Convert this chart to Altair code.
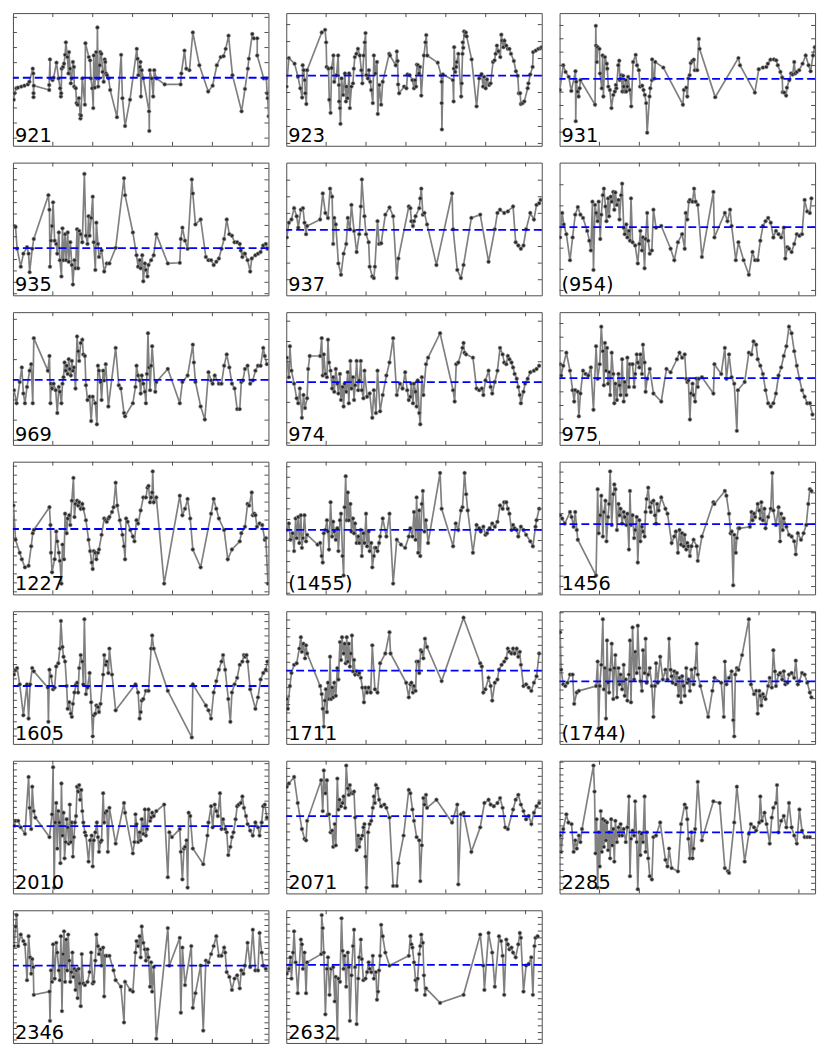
import altair as alt
import pandas as pd

LABELS = ["921", "923", "931", "935", "937", "(954)", "969", "974", "975",
          "1227", "(1455)", "1456", "1605", "1711", "(1744)", "2010", "2071",
          "2285", "2346", "2632"]
MEANS = [52.3, 54.0, 51.5, 36.25, 50.25, 52.5, 50.0, 48.25, 51.25, 50.25,
         49.5, 54.0, 44.5, 56.25, 48.0, 51.75, 59.5, 47.0, 59.5, 60.0]
STEPS = [11.6, 13.05, 10.25, 8.75, 12.75, 16.25, 15.5, 15.6, 10.5, 6.9,
         8.1, 8.0, 5.5, 6.5, 6.6, 4.8, 6.1, 4.9, 4.4, 5.2]
X_TICKS = [15.3, 30.6, 45.9, 61.2, 76.5, 91.8]
X_DOMAIN = [0, 98]
Y_DOMAIN = [0, 102]

P921 = [(0.3,35.4),(0.6,40.4),(1.3,44.2),(1.9,44.7),(3.2,45.5),(4.4,46.2),(5.7,47.2),(6.3,49.2),(7.6,59.3),(7.8,55.6),(7.9,40.4),(7.9,37.4),(8.0,46.2),(13.9,42.9),(13.9,46.7),(14.2,66.4),(14.3,51.8),(15.2,50.5),(15.6,52.3),(16.7,63.9),(17.5,51.8),(18.1,44.2),(18.4,37.9),(18.5,40.4),(18.7,59.3),(19.2,60.6),(19.6,63.1),(20.0,69.9),(20.3,79.5),(20.9,68.2),(21.3,55.6),(21.5,72.0),(21.9,59.3),(22.2,48.0),(22.5,51.8),(23.0,64.4),(23.4,60.6),(23.5,45.5),(24.1,44.2),(24.4,32.8),(24.8,31.6),(25.3,36.6),(25.8,24.0),(25.9,21.0),(26.1,23.2),(26.6,51.8),(27.6,31.6),(27.8,78.8),(29.1,68.2),(29.6,65.7),(29.9,51.8),(30.4,44.2),(30.8,29.0),(31.0,69.4),(31.4,44.7),(31.9,72.0),(32.2,51.8),(32.4,90.9),(32.7,45.5),(32.9,51.8),(33.3,61.9),(33.5,72.0),(33.9,70.7),(34.4,56.8),(34.8,49.2),(35.2,66.4),(35.4,64.4),(35.7,55.6),(36.1,54.3),(36.7,51.8),(37.3,42.9),(39.9,22.0),(41.5,69.9),(42.0,36.6),(43.0,15.2),(44.9,35.4),(47.5,74.5),(47.8,66.9),(48.1,54.3),(48.7,60.6),(48.9,64.4),(49.1,37.9),(49.4,58.1),(50.0,51.8),(52.2,26.5),(52.3,11.4),(52.5,58.1),(53.2,51.8),(53.8,37.9),(54.2,58.1),(55.1,51.8),(58.2,47.2),(64.3,47.2),(64.6,55.6),(65.8,73.2),(66.5,59.3),(67.7,58.1),(69.0,87.1),(71.5,61.9),(74.9,41.7),(76.6,46.2),(78.2,61.9),(79.7,68.2),(80.8,68.9),(81.6,74.5),(82.7,84.6),(84.2,54.3),(87.7,26.5),(89.0,43.7),(90.1,59.3),(90.5,66.9),(91.8,85.9),(92.4,82.6),(93.7,82.6),(93.7,69.4),(96.2,51.8),(97.2,51.8),(97.5,40.4),(97.7,36.6),(98.1,22.7)]

P923 = [(0.1,45.5),(1.0,67.4),(3.2,63.1),(4.5,53.0),(5.4,44.2),(6.1,37.1),(6.3,61.9),(6.7,58.1),(7.1,50.5),(7.3,40.4),(7.7,32.1),(8.0,58.1),(13.6,87.1),(14.9,89.1),(15.3,79.5),(15.5,60.6),(16.2,59.3),(16.5,35.4),(17.0,25.3),(17.4,59.8),(18.1,69.4),(18.4,49.2),(19.3,54.3),(19.9,69.4),(20.2,46.7),(20.3,34.1),(20.6,29.0),(20.8,16.9),(21.2,51.8),(21.8,39.1),(22.5,55.6),(22.9,34.1),(23.1,45.5),(23.5,36.6),(24.1,55.6),(24.4,29.0),(25.0,45.5),(25.6,48.0),(25.9,59.3),(26.3,68.2),(26.9,70.7),(27.5,74.5),(28.2,69.4),(28.8,58.1),(29.2,48.0),(29.7,69.4),(30.1,79.5),(30.4,86.6),(30.7,54.3),(31.3,51.8),(31.7,58.1),(32.2,49.2),(32.6,42.9),(33.2,32.8),(33.6,69.4),(34.2,55.6),(34.8,64.4),(35.1,24.5),(35.7,46.7),(36.4,31.6),(37.0,49.2),(39.5,70.7),(39.8,69.4),(42.0,61.9),(42.4,72.5),(42.7,65.2),(42.9,47.2),(43.3,40.4),(45.2,45.5),(46.1,44.2),(46.5,54.8),(47.3,54.3),(48.4,50.5),(49.0,44.2),(49.4,50.5),(49.8,45.5),(50.1,62.4),(50.5,61.9),(50.9,55.6),(51.3,60.6),(51.8,38.6),(52.8,69.4),(53.4,79.5),(53.7,85.1),(54.1,69.4),(58.1,63.9),(59.4,54.3),(59.6,49.2),(59.6,32.8),(59.7,12.6),(60.1,54.8),(63.9,50.5),(64.2,34.1),(64.3,59.3),(64.4,75.8),(64.8,56.8),(65.2,60.6),(65.4,64.4),(66.0,70.7),(67.1,37.9),(67.3,48.0),(67.6,70.7),(67.7,79.5),(67.9,75.3),(68.2,87.9),(68.6,84.6),(68.9,87.1),(69.2,84.1),(71.1,66.4),(73.0,30.3),(74.0,51.8),(74.9,55.1),(75.5,45.5),(75.9,53.0),(76.5,44.2),(77.0,51.0),(77.8,46.7),(78.4,48.0),(79.3,64.4),(79.9,65.7),(80.3,70.7),(80.8,77.0),(81.4,72.7),(82.1,68.2),(82.5,85.4),(82.8,80.8),(83.3,75.8),(83.7,80.8),(84.4,77.0),(85.0,74.5),(85.6,74.5),(86.2,70.7),(87.3,65.2),(88.1,57.3),(88.8,53.8),(89.2,40.4),(89.7,40.4),(90.0,32.1),(90.7,32.8),(91.3,34.1),(92.6,44.2),(92.9,48.0),(93.6,54.8),(94.5,60.6),(94.7,72.0),(95.7,73.2),(96.7,74.5),(97.6,75.0),(98.0,75.8)]

P931 = [(0.1,42.9),(1.4,61.9),(2.3,56.8),(3.5,53.0),(4.5,42.2),(6.1,57.3),(6.2,18.9),(6.4,49.2),(6.9,41.7),(7.3,37.9),(7.7,44.2),(8.0,50.5),(13.6,31.6),(13.9,92.2),(14.0,77.0),(14.3,64.4),(14.6,75.8),(15.3,74.5),(15.5,55.6),(16.2,44.2),(16.5,69.4),(16.8,37.9),(17.4,68.2),(18.1,63.1),(18.3,59.3),(18.7,45.5),(19.3,42.9),(19.9,29.0),(20.6,39.1),(21.2,41.7),(21.6,46.7),(21.8,44.2),(22.5,61.9),(22.9,65.4),(23.1,50.5),(23.4,51.8),(23.7,54.3),(24.1,41.7),(24.4,53.8),(24.6,45.5),(25.0,41.7),(25.4,50.5),(25.6,41.7),(26.0,45.5),(26.3,53.0),(26.9,42.9),(27.5,30.3),(28.2,64.4),(29.2,69.9),(29.7,61.9),(30.4,58.1),(30.9,45.5),(31.7,46.2),(32.2,42.9),(32.7,39.1),(33.2,32.8),(33.6,10.1),(34.5,37.9),(34.8,44.2),(35.4,50.5),(35.5,66.4),(36.0,51.8),(36.4,51.8),(36.7,64.4),(39.8,60.1),(47.3,31.6),(47.7,42.9),(48.6,44.7),(49.0,37.9),(49.4,51.8),(49.9,54.3),(50.3,63.6),(50.9,65.2),(51.5,66.2),(51.9,58.1),(52.8,58.1),(53.4,82.1),(53.7,74.5),(59.7,37.4),(68.6,67.4),(69.2,61.9),(74.9,40.9),(76.4,58.8),(78.0,60.1),(79.3,60.6),(79.9,63.1),(80.9,66.2),(82.2,66.4),(83.1,65.7),(83.7,61.9),(84.7,56.8),(85.4,52.5),(85.6,41.2),(86.2,40.9),(86.9,38.6),(87.2,44.7),(88.1,50.5),(88.8,55.6),(89.4,54.8),(90.0,64.4),(90.4,55.6),(91.0,56.8),(91.9,58.1),(93.2,63.1),(94.4,69.4),(95.5,61.9),(96.3,57.3),(97.2,69.4),(97.9,75.8)]

P935 = [(0.4,53.3),(1.0,52.5),(1.6,35.8),(3.0,22.0),(4.0,32.0),(5.4,37.0),(6.0,32.0),(6.4,17.8),(7.4,35.8),(8.0,43.3),(13.6,77.0),(14.0,65.8),(14.2,22.0),(14.6,42.0),(15.0,53.3),(15.4,71.5),(16.0,42.0),(16.6,39.5),(17.0,32.0),(17.6,48.3),(18.0,27.0),(18.6,14.5),(19.0,51.5),(19.4,27.0),(20.0,47.0),(20.4,27.0),(21.0,48.3),(21.4,25.8),(22.0,40.8),(22.6,23.3),(23.0,8.3),(23.6,27.0),(24.0,20.8),(24.6,50.8),(25.0,20.8),(25.4,49.5),(26.0,47.0),(26.6,40.8),(27.4,93.3),(28.0,45.8),(28.6,39.5),(29.0,60.8),(29.4,45.8),(30.0,59.5),(30.6,75.8),(31.0,40.8),(31.6,19.5),(32.0,55.8),(32.6,39.5),(33.0,29.5),(34.0,34.5),(35.0,18.3),(36.0,24.5),(37.0,24.5),(39.4,36.5),(42.6,90.0),(43.0,77.0),(46.0,48.3),(47.4,30.8),(48.0,22.0),(48.6,27.0),(49.0,20.8),(49.6,30.8),(50.0,10.8),(50.6,24.5),(51.0,19.5),(51.6,14.5),(52.0,23.3),(53.0,27.0),(54.0,30.8),(55.0,47.0),(59.4,24.5),(64.0,25.0),(64.4,43.3),(65.0,52.0),(66.0,42.0),(67.0,35.8),(68.6,89.0),(69.0,78.3),(70.0,54.5),(72.0,58.3),(74.0,29.5),(75.0,27.0),(76.0,27.0),(77.0,23.3),(78.0,25.8),(79.0,28.3),(80.0,35.8),(81.0,43.3),(82.0,58.3),(83.0,47.0),(84.0,45.8),(85.0,40.8),(86.0,40.8),(87.0,39.5),(87.4,34.5),(88.0,29.5),(88.6,32.0),(89.0,32.0),(90.0,27.0),(91.0,18.3),(91.6,28.3),(93.0,30.8),(94.0,32.0),(95.0,33.3),(96.0,38.3),(97.0,39.5),(97.6,35.8)]

P937 = [(0.2,44.5),(1.0,55.8),(2.0,58.3),(3.0,67.0),(4.0,60.8),(4.6,52.0),(5.6,65.8),(6.4,67.0),(7.0,55.8),(7.6,47.0),(8.0,53.3),(13.0,58.3),(14.0,78.3),(15.0,63.3),(16.0,59.5),(16.8,82.0),(17.6,75.8),(18.0,39.5),(18.4,59.5),(19.0,54.5),(20.0,24.5),(21.0,15.8),(22.0,32.0),(23.0,39.5),(23.6,59.5),(24.4,50.8),(25.0,69.5),(26.0,49.5),(27.0,33.3),(28.0,47.0),(28.6,68.3),(29.0,89.0),(30.0,60.8),(30.6,47.0),(31.6,40.8),(32.0,22.0),(33.0,14.5),(33.6,13.3),(34.0,22.0),(35.0,57.0),(35.6,39.5),(36.4,40.0),(38.0,62.0),(39.6,67.5),(41.0,60.8),(42.4,13.3),(43.0,28.3),(47.0,68.3),(47.6,67.0),(48.0,57.0),(48.6,53.3),(49.0,57.0),(49.6,60.8),(51.0,67.0),(51.4,74.5),(51.8,82.0),(52.4,62.0),(53.0,63.3),(54.0,54.5),(57.6,23.3),(63.6,78.3),(64.0,50.8),(65.6,19.5),(67.0,13.3),(68.0,23.3),(71.0,59.5),(74.4,62.0),(77.6,25.8),(80.0,50.8),(81.0,63.3),(82.0,65.8),(83.6,63.3),(85.0,64.5),(87.0,68.3),(88.0,40.8),(89.0,38.3),(90.0,35.8),(91.0,38.3),(92.0,50.8),(93.6,63.3),(95.0,58.3),(96.0,69.5),(97.0,70.8),(97.6,73.3)]

P954 = [(0.2,44.5),(1.0,63.3),(1.6,54.5),(2.6,47.0),(4.0,27.0),(5.0,44.5),(6.0,62.0),(7.0,67.8),(8.0,62.0),(9.0,59.5),(10.6,49.5),(11.4,42.0),(12.0,34.5),(12.6,72.0),(13.0,19.5),(13.6,69.5),(14.0,63.3),(14.6,57.0),(15.0,72.0),(15.6,43.3),(16.0,62.0),(16.6,77.0),(17.0,82.0),(17.6,68.3),(18.0,57.0),(18.6,74.5),(19.0,60.8),(19.6,75.8),(20.0,72.0),(20.6,79.5),(21.0,65.8),(21.4,79.0),(22.0,69.5),(22.6,73.3),(23.0,58.3),(23.6,77.0),(24.0,85.8),(24.6,52.0),(25.0,47.0),(25.6,54.5),(26.0,44.5),(26.6,49.5),(27.0,42.0),(27.4,74.5),(28.0,40.8),(29.0,38.3),(30.0,24.5),(30.6,39.5),(31.0,49.5),(31.6,34.5),(32.0,44.5),(32.6,20.8),(33.0,43.3),(33.6,63.3),(34.0,42.0),(34.6,32.0),(35.4,34.5),(36.0,65.8),(37.0,52.0),(39.0,53.3),(42.6,35.8),(44.0,27.0),(45.4,40.8),(47.0,47.0),(48.0,35.8),(48.4,63.3),(49.0,58.3),(49.6,72.0),(50.0,73.3),(51.0,72.0),(51.6,82.0),(52.2,72.0),(53.0,69.5),(54.6,29.5),(59.0,79.5),(59.4,44.5),(63.4,63.3),(64.4,57.0),(65.4,65.8),(66.0,53.3),(67.6,27.0),(68.6,40.8),(70.6,27.0),(72.6,15.8),(74.0,33.3),(75.0,27.0),(76.0,27.0),(77.0,42.0),(78.0,53.3),(79.0,57.0),(80.0,59.5),(81.0,55.8),(82.0,44.5),(83.0,49.5),(84.0,47.0),(85.0,44.5),(86.0,52.0),(86.6,28.3),(87.4,37.0),(88.0,35.8),(89.0,33.3),(90.0,39.5),(91.0,47.0),(92.0,45.8),(93.0,47.0),(94.0,73.3),(95.0,64.5),(96.0,63.3),(96.6,74.5)]

P969 = [(0.4,42.0),(1.4,32.0),(2.6,48.3),(3.4,59.5),(4.0,39.5),(4.6,32.0),(5.4,44.5),(6.4,57.0),(7.0,62.0),(7.6,32.0),(8.0,82.0),(13.4,57.0),(14.0,68.3),(14.4,32.0),(14.6,47.0),(15.0,43.3),(15.6,47.0),(16.4,42.0),(17.0,24.5),(17.6,44.5),(18.0,40.8),(18.6,32.0),(19.0,47.0),(19.4,52.0),(19.8,63.3),(20.2,57.0),(20.6,60.8),(21.0,54.5),(21.4,65.8),(21.8,58.3),(22.2,53.3),(22.6,64.5),(23.0,57.0),(23.4,59.5),(24.0,43.3),(24.6,83.3),(25.0,72.0),(25.4,64.5),(26.0,78.3),(26.6,80.8),(27.0,69.5),(27.6,68.3),(28.0,45.8),(28.6,34.5),(29.4,37.0),(30.0,18.3),(30.6,37.0),(31.6,32.0),(32.2,15.8),(32.6,60.8),(33.0,57.0),(33.6,48.3),(34.0,34.5),(34.6,57.0),(35.0,49.5),(35.6,62.0),(36.6,29.5),(39.4,74.5),(40.6,45.8),(41.4,43.3),(42.6,24.5),(43.0,22.0),(46.0,32.0),(47.0,44.5),(47.4,60.8),(48.0,53.3),(48.6,49.5),(49.0,39.5),(49.4,53.3),(50.0,47.0),(50.6,40.8),(51.0,32.0),(51.4,54.5),(51.8,85.8),(52.2,59.5),(52.6,42.0),(53.0,60.8),(53.4,75.8),(54.6,40.8),(55.0,48.3),(59.4,58.3),(64.0,32.0),(65.0,48.3),(67.0,53.3),(69.0,77.0),(69.4,63.3),(70.0,48.3),(72.0,29.5),(73.6,19.5),(75.0,55.8),(76.0,49.5),(76.6,47.0),(77.4,53.3),(79.0,47.0),(80.0,47.0),(81.0,60.8),(82.0,69.5),(83.0,59.5),(84.0,47.0),(85.0,43.3),(86.0,27.5),(87.0,27.5),(87.6,48.3),(88.2,49.5),(89.0,58.3),(90.0,60.8),(91.0,47.0),(92.0,49.5),(93.0,57.0),(94.0,60.8),(95.0,60.8),(96.0,74.5),(96.6,68.3),(97.4,62.0)]

P974 = [(0.2,67.0),(1.0,52.0),(1.4,75.8),(2.0,57.0),(3.0,47.0),(4.0,35.8),(4.6,32.0),(5.2,43.3),(6.0,20.8),(6.6,38.3),(7.2,28.3),(8.0,35.8),(8.4,58.3),(9.0,68.3),(13.0,68.3),(13.6,82.0),(14.0,53.3),(14.4,69.5),(15.0,54.5),(15.6,52.0),(16.0,80.8),(16.4,63.3),(17.0,57.0),(17.6,43.3),(18.0,52.0),(18.4,40.8),(19.0,58.3),(19.6,47.0),(20.0,39.5),(20.6,54.5),(21.0,34.5),(21.6,44.5),(22.0,29.5),(22.4,47.0),(23.0,40.8),(23.6,55.8),(24.0,32.0),(24.6,64.5),(25.0,43.3),(25.6,52.0),(26.0,34.5),(26.4,45.8),(27.0,64.5),(27.6,42.0),(28.0,49.5),(28.6,64.5),(29.0,42.0),(29.6,35.8),(30.0,57.0),(31.0,37.0),(32.0,39.5),(33.0,20.8),(33.6,42.0),(34.4,24.5),(35.0,57.0),(36.0,25.8),(37.0,38.3),(38.4,53.3),(39.6,63.3),(41.0,82.0),(42.4,38.3),(43.6,47.0),(44.6,43.3),(45.6,55.8),(46.4,42.0),(47.0,34.5),(47.6,37.0),(48.0,47.0),(48.6,32.0),(49.0,47.0),(49.6,40.8),(50.0,29.5),(50.4,49.5),(51.0,24.5),(51.4,15.8),(52.0,52.0),(52.6,38.3),(53.6,62.0),(54.4,67.0),(59.0,85.8),(64.0,42.0),(64.6,33.3),(65.2,62.0),(66.0,63.3),(67.6,74.5),(68.0,78.3),(68.4,70.8),(69.0,69.5),(71.6,67.0),(73.0,43.3),(74.0,42.0),(75.0,43.3),(75.6,38.3),(76.4,49.5),(77.6,57.0),(78.4,44.5),(79.0,39.5),(80.0,48.3),(81.0,57.0),(82.0,74.5),(83.0,69.5),(83.6,63.3),(84.4,62.0),(85.0,68.3),(85.6,65.8),(86.4,63.3),(87.0,59.5),(87.6,54.5),(88.4,50.8),(89.0,44.5),(89.6,38.3),(90.0,32.0),(91.0,40.8),(91.6,47.0),(92.6,50.8),(93.6,55.8),(95.0,57.0),(96.0,58.3),(97.0,60.8)]

P975 = [(0.2,62.0),(0.6,53.3),(1.4,60.8),(2.6,70.8),(4.0,57.0),(5.0,42.0),(5.6,33.3),(6.0,42.0),(7.0,40.8),(7.4,22.0),(8.0,39.5),(9.0,57.0),(10.0,54.5),(11.0,53.3),(12.0,59.5),(13.0,27.0),(14.0,75.8),(14.6,50.8),(15.4,62.0),(16.0,90.8),(16.6,72.0),(17.0,45.8),(17.4,78.3),(17.8,57.0),(18.2,74.5),(18.6,47.0),(19.0,55.8),(19.4,38.3),(20.0,70.8),(20.6,54.5),(21.0,32.0),(21.4,47.0),(22.0,34.5),(22.6,54.5),(23.0,45.8),(23.4,38.3),(24.0,65.8),(24.6,33.3),(25.0,48.3),(25.6,38.3),(26.0,67.0),(26.6,44.5),(27.0,62.0),(28.0,62.0),(28.6,44.5),(29.0,54.5),(29.6,69.5),(30.0,63.3),(30.6,59.5),(31.0,69.5),(31.6,54.5),(32.0,77.0),(32.6,63.3),(33.0,40.8),(33.6,50.8),(34.6,58.3),(36.0,39.5),(39.0,33.3),(41.0,58.3),(42.6,55.8),(45.0,65.8),(46.0,70.8),(47.0,67.0),(48.0,69.5),(48.6,50.8),(49.0,48.3),(49.4,49.5),(50.0,19.5),(50.4,39.5),(51.0,47.0),(51.4,38.3),(52.0,33.3),(52.6,50.8),(53.0,44.5),(53.4,50.8),(54.6,52.0),(59.0,39.5),(59.4,62.0),(62.0,54.5),(63.4,74.5),(64.0,50.8),(65.0,69.5),(66.0,52.0),(67.0,47.0),(68.0,10.8),(68.4,42.0),(71.0,48.3),(72.6,70.8),(73.6,69.5),(74.4,79.5),(75.4,77.0),(76.0,65.8),(77.0,60.8),(78.0,54.5),(79.0,42.0),(80.0,32.0),(81.0,29.5),(82.0,32.0),(83.0,39.5),(84.0,53.3),(85.0,59.5),(86.0,68.3),(87.0,75.8),(88.0,90.8),(89.0,85.8),(90.0,72.0),(91.0,60.8),(92.0,50.8),(93.0,42.0),(94.0,37.0),(95.0,32.0),(96.0,32.0),(97.0,23.3)]

P1227 = [(0.2,68.3),(1.0,42.0),(2.6,32.0),(3.4,27.0),(4.6,20.8),(6.0,22.0),(7.0,37.0),(7.6,47.0),(8.0,49.5),(14.0,67.0),(14.4,53.3),(14.6,32.0),(15.0,17.0),(16.0,27.0),(16.6,48.3),(17.0,40.8),(17.6,32.0),(18.0,25.8),(18.6,8.3),(19.0,38.3),(19.6,27.0),(20.0,62.0),(20.6,47.0),(21.0,58.3),(21.6,60.8),(22.0,53.3),(22.6,72.0),(23.2,89.5),(23.6,59.5),(24.0,69.5),(24.6,72.0),(25.0,68.3),(25.4,70.8),(26.0,65.8),(26.6,69.5),(27.0,65.8),(28.0,57.0),(29.0,42.0),(29.6,33.3),(30.2,24.5),(30.6,19.5),(31.0,33.3),(31.6,32.0),(32.0,27.0),(32.6,32.0),(33.0,34.5),(34.0,45.8),(35.0,58.3),(35.6,57.0),(36.0,55.8),(36.6,58.3),(37.0,59.5),(38.0,63.3),(38.6,67.0),(39.4,85.8),(40.0,68.3),(41.0,57.0),(42.0,45.8),(42.6,37.0),(43.0,27.0),(43.4,58.3),(44.0,55.8),(45.0,49.5),(46.0,44.5),(46.6,40.8),(47.4,57.0),(48.0,54.5),(49.0,64.5),(50.0,74.5),(51.0,74.5),(51.6,82.0),(52.0,83.3),(52.6,70.8),(53.0,74.5),(53.4,78.3),(53.6,94.5),(54.0,70.8),(55.0,74.5),(58.0,8.3),(64.0,75.8),(65.0,60.8),(66.0,65.8),(67.0,73.3),(68.0,58.3),(69.0,34.5),(72.0,20.8),(76.0,62.0),(77.0,73.3),(78.0,65.8),(79.0,58.3),(81.0,49.5),(82.4,27.0),(84.0,34.5),(87.0,40.8),(87.6,47.0),(89.0,52.0),(90.0,69.5),(90.6,68.3),(91.6,78.3),(92.0,60.8),(92.6,62.0),(93.0,60.8),(93.6,52.0),(94.6,54.5),(95.6,53.3),(96.6,42.0),(97.0,43.3),(97.8,8.3)]

P1455 = [(0.2,49.5),(1.0,54.5),(1.6,42.0),(2.4,47.0),(3.0,33.3),(3.6,58.3),(4.0,43.3),(4.6,59.5),(5.0,39.5),(5.6,60.8),(6.0,35.8),(6.4,43.3),(7.0,60.8),(7.6,40.8),(8.0,45.8),(12.0,38.3),(13.0,39.5),(13.6,29.5),(14.0,24.5),(14.4,47.0),(15.0,49.5),(15.6,57.0),(16.0,48.3),(16.4,34.5),(17.0,70.8),(17.6,44.5),(18.0,55.8),(18.4,48.3),(19.0,42.0),(19.6,50.8),(20.0,33.3),(20.6,57.0),(21.0,62.0),(21.6,29.5),(22.0,14.5),(22.4,67.0),(22.8,90.8),(23.2,57.0),(23.6,78.3),(24.0,57.0),(24.6,69.5),(25.0,48.3),(25.6,58.3),(26.0,47.0),(26.4,54.5),(27.0,39.5),(27.6,44.5),(28.0,39.5),(28.6,49.5),(29.0,29.5),(29.6,47.0),(30.0,39.5),(30.6,62.0),(31.0,37.0),(31.6,48.3),(32.0,33.3),(32.6,39.5),(33.0,20.8),(33.6,29.5),(34.0,35.8),(34.4,35.8),(35.0,33.3),(35.6,39.5),(36.0,44.5),(37.0,58.3),(38.4,44.5),(39.6,62.0),(41.0,8.3),(42.4,42.0),(44.0,38.3),(45.6,35.8),(47.0,44.5),(47.6,50.8),(48.4,44.5),(49.0,63.3),(49.6,42.0),(50.0,74.5),(50.6,32.0),(51.0,64.5),(51.4,29.5),(52.0,69.5),(52.4,79.5),(53.0,48.3),(53.6,57.0),(54.4,39.5),(59.0,93.3),(59.6,65.8),(64.0,37.0),(65.0,54.5),(66.0,49.5),(67.0,64.5),(67.6,67.0),(68.4,93.3),(69.0,77.0),(69.6,64.5),(71.6,32.0),(73.0,53.3),(74.0,50.8),(74.6,48.3),(75.6,52.0),(76.4,45.8),(77.0,47.0),(78.0,50.8),(79.0,54.5),(80.0,52.0),(81.0,55.8),(82.0,68.3),(83.0,65.8),(83.6,70.8),(84.4,70.8),(85.0,65.8),(85.6,62.0),(86.4,49.5),(87.0,53.3),(87.6,50.8),(88.4,49.5),(89.0,44.5),(90.0,52.0),(91.0,49.5),(92.0,45.8),(93.6,40.8),(94.6,37.0),(95.6,52.0),(96.0,57.0),(97.0,65.8)]

P1456 = [(0.2,60.8),(1.0,58.3),(2.0,54.5),(4.0,63.3),(4.6,59.5),(5.4,52.0),(6.0,63.3),(6.6,49.5),(7.0,42.0),(14.0,14.5),(14.6,80.8),(15.0,47.0),(15.6,60.8),(16.0,75.8),(16.6,44.5),(17.0,63.3),(17.6,72.0),(18.0,40.8),(18.6,59.5),(19.0,69.5),(19.4,94.5),(20.0,53.3),(20.6,77.0),(21.0,84.5),(21.4,80.8),(22.0,49.5),(22.6,69.5),(23.0,60.8),(23.4,65.8),(24.0,54.5),(24.6,63.3),(25.0,59.5),(25.6,53.3),(26.0,62.0),(26.6,34.5),(27.0,79.5),(27.4,53.3),(28.0,60.8),(28.6,43.3),(29.0,49.5),(29.6,59.5),(30.0,24.5),(30.6,57.0),(31.0,40.8),(31.6,52.0),(32.0,48.3),(32.6,44.5),(33.0,63.3),(33.4,73.3),(34.0,82.0),(34.6,67.0),(35.0,63.3),(35.4,70.8),(36.0,72.0),(36.6,60.8),(37.0,54.5),(37.4,69.5),(38.0,64.5),(39.0,74.5),(40.6,65.8),(41.4,62.0),(43.0,39.5),(44.0,44.5),(44.6,48.3),(45.4,32.0),(46.0,49.5),(46.6,38.3),(47.0,47.0),(47.6,37.0),(48.0,45.8),(48.6,34.5),(49.0,39.5),(49.4,37.0),(50.0,29.5),(50.6,37.0),(51.4,42.0),(52.6,37.0),(53.0,25.8),(54.6,44.5),(59.0,70.8),(59.4,69.5),(63.4,79.5),(64.0,75.8),(65.0,62.0),(65.6,47.0),(66.0,48.3),(66.6,7.0),(67.0,45.8),(67.6,32.0),(68.0,43.3),(68.6,50.8),(69.0,50.8),(73.0,52.0),(73.6,63.3),(74.0,57.0),(74.6,62.0),(75.0,59.5),(76.0,69.5),(76.6,64.5),(77.0,58.3),(77.4,70.8),(78.0,57.0),(78.6,65.8),(79.0,50.8),(80.0,59.5),(81.0,65.8),(81.6,93.3),(82.0,64.5),(83.0,53.3),(84.0,67.0),(84.6,40.8),(85.0,62.0),(85.6,49.5),(86.0,58.3),(87.0,52.0),(88.0,45.8),(89.0,44.5),(90.0,40.8),(90.6,30.8),(91.4,47.0),(92.6,42.0),(93.6,47.0),(94.6,53.3),(95.4,69.5),(96.0,80.8),(96.6,79.5)]

P1605 = [(0.4,53.3),(1.0,57.0),(1.6,58.3),(2.6,45.8),(4.0,22.0),(5.4,45.8),(6.0,19.5),(6.6,45.8),(7.4,58.3),(8.0,55.8),(13.4,43.3),(13.6,17.0),(14.0,57.0),(14.6,52.0),(15.4,42.0),(16.0,43.3),(16.6,59.5),(17.4,62.0),(18.0,73.3),(18.4,94.5),(19.0,74.5),(19.4,67.0),(20.0,63.3),(20.6,44.5),(21.0,27.0),(21.6,32.0),(22.2,23.3),(22.6,20.8),(23.0,30.8),(23.6,39.5),(24.2,45.8),(24.6,47.0),(25.0,39.5),(25.4,58.3),(26.0,68.3),(26.6,63.3),(27.0,45.8),(27.4,95.8),(28.0,38.3),(28.6,43.3),(29.4,54.5),(30.0,32.0),(30.6,5.8),(31.0,22.0),(31.6,23.3),(32.0,29.5),(32.6,28.3),(33.0,24.5),(33.6,30.8),(34.6,53.3),(35.0,68.3),(35.6,60.8),(36.0,63.3),(36.6,54.5),(37.0,73.3),(38.0,53.3),(39.4,25.8),(47.0,45.8),(48.0,39.5),(48.6,19.5),(49.0,24.5),(49.4,33.3),(50.0,34.5),(51.0,40.8),(52.0,40.8),(53.0,73.3),(53.4,83.3),(54.0,73.3),(59.4,40.8),(68.6,5.0),(69.0,45.8),(74.0,29.5),(75.0,25.8),(76.0,19.5),(77.0,39.5),(78.0,48.3),(79.0,57.0),(80.0,63.3),(80.6,68.3),(81.4,57.0),(82.6,34.5),(83.4,17.0),(84.0,39.5),(85.0,45.8),(86.0,50.8),(87.0,60.8),(88.0,63.3),(88.6,68.3),(89.0,67.0),(89.6,68.3),(90.0,63.3),(91.0,42.0),(93.0,27.0),(94.0,35.8),(95.0,49.5),(96.0,54.5),(97.0,57.0),(97.6,63.3)]

P1711 = [(0.2,34.5),(0.6,27.0),(1.4,44.5),(2.0,54.5),(3.0,60.8),(4.0,62.0),(5.0,73.3),(5.6,82.0),(6.0,70.8),(6.6,77.0),(7.2,65.8),(7.6,75.8),(8.0,69.5),(13.0,44.5),(13.6,38.3),(14.0,27.0),(14.4,13.3),(14.8,33.3),(15.2,42.0),(15.6,24.5),(16.0,47.0),(16.4,34.5),(16.8,67.0),(17.2,34.5),(17.6,43.3),(18.0,35.8),(18.4,47.0),(19.0,37.0),(19.6,58.3),(20.0,49.5),(20.6,78.3),(21.0,64.5),(21.4,82.0),(22.0,69.5),(22.4,77.0),(22.8,62.0),(23.2,82.0),(23.6,63.3),(24.0,77.0),(24.4,59.5),(24.8,69.5),(25.2,83.3),(25.6,55.8),(26.0,64.5),(26.4,53.3),(27.0,55.8),(27.6,53.3),(28.0,54.5),(28.6,50.8),(29.2,43.3),(29.8,32.0),(30.4,43.3),(31.0,39.5),(31.6,43.3),(32.4,39.5),(33.0,75.8),(34.0,42.0),(35.0,39.5),(36.0,62.0),(38.0,69.5),(39.6,85.8),(40.0,69.5),(46.0,47.0),(47.0,35.8),(47.6,45.8),(48.0,47.0),(48.6,39.5),(49.0,44.5),(49.6,40.8),(50.0,63.3),(50.6,63.3),(51.0,54.5),(51.6,72.0),(52.0,70.8),(52.6,65.8),(53.2,80.8),(54.0,74.5),(59.6,48.3),(68.0,97.0),(74.4,62.0),(75.0,59.5),(75.6,39.5),(76.4,42.0),(77.6,50.8),(78.4,44.5),(79.0,33.3),(80.0,47.0),(81.0,49.5),(81.6,57.0),(82.6,60.8),(83.6,63.3),(84.4,65.8),(85.0,73.3),(85.6,70.8),(86.4,69.5),(87.0,73.3),(87.6,69.5),(88.4,73.3),(89.0,67.0),(89.6,70.8),(90.0,60.8),(91.0,44.5),(92.0,45.8),(93.0,43.3),(94.0,40.8),(95.0,47.0),(96.0,52.0),(97.0,69.5)]

P1744 = [(0.2,85.8),(0.6,57.0),(1.4,45.8),(2.2,44.5),(3.0,47.0),(4.0,53.3),(5.0,53.3),(5.6,30.8),(6.6,39.5),(7.4,40.8),(14.0,44.5),(14.6,63.3),(15.0,12.0),(15.4,44.5),(16.0,60.8),(16.6,95.8),(17.0,42.0),(17.4,58.3),(17.8,19.5),(18.2,79.5),(18.6,47.0),(19.0,39.5),(19.4,57.0),(20.0,77.0),(20.6,34.5),(21.0,58.3),(21.4,68.3),(22.0,35.8),(22.6,58.3),(23.0,45.8),(23.4,53.3),(24.0,42.0),(24.6,60.8),(25.0,37.0),(25.4,49.5),(26.0,33.3),(26.6,53.3),(27.0,79.5),(27.4,32.0),(28.0,89.5),(28.6,49.5),(29.0,70.8),(29.6,54.5),(30.0,90.8),(30.6,58.3),(31.0,48.3),(31.6,40.8),(32.0,72.0),(32.6,54.5),(33.0,80.8),(33.4,47.0),(34.0,53.3),(34.6,58.3),(35.4,44.5),(36.0,20.8),(36.6,44.5),(37.0,62.0),(37.6,47.0),(38.6,67.0),(39.6,49.5),(40.6,57.0),(41.4,49.5),(42.0,80.8),(42.6,57.0),(43.0,52.0),(43.4,47.0),(44.0,55.8),(44.6,45.8),(45.0,54.5),(45.6,37.0),(46.0,50.8),(46.6,32.0),(47.0,52.0),(47.6,44.5),(48.0,37.0),(48.6,58.3),(49.0,47.0),(49.4,49.5),(50.0,40.8),(50.6,57.0),(51.4,45.8),(52.0,58.3),(52.6,77.0),(53.0,53.3),(54.0,44.5),(57.0,20.8),(58.6,40.8),(59.4,50.8),(62.0,47.0),(63.0,20.8),(63.4,63.3),(64.0,45.8),(65.0,50.8),(66.0,55.8),(66.6,18.3),(67.0,5.8),(67.4,53.3),(68.0,58.3),(68.6,57.0),(70.0,68.3),(72.6,95.8),(73.4,45.8),(74.6,38.3),(75.4,40.8),(76.0,23.3),(76.6,40.8),(77.0,37.0),(77.4,29.5),(78.0,38.3),(78.6,35.8),(79.0,34.5),(80.0,44.5),(80.6,50.8),(81.4,43.3),(82.0,72.0),(82.6,55.8),(83.0,44.5),(84.0,53.3),(84.6,54.5),(85.4,49.5),(86.0,55.8),(86.6,45.8),(87.4,47.0),(88.0,53.3),(89.0,54.5),(90.0,50.8),(90.6,64.0),(91.4,45.8),(92.0,48.3),(93.0,54.5),(94.0,53.3),(95.0,47.0),(96.0,39.5),(96.6,35.8)]

P2010 = [(0.4,52.0),(1.0,55.8),(2.0,55.8),(3.0,50.8),(4.6,45.8),(6.0,89.5),(6.4,65.8),(7.0,49.5),(7.4,82.0),(8.0,63.3),(8.6,58.3),(14.0,43.3),(15.0,60.8),(15.4,97.0),(15.8,4.5),(16.2,54.5),(16.6,69.5),(17.0,34.5),(17.4,63.3),(17.8,54.5),(18.2,23.3),(18.6,84.5),(19.0,44.5),(19.4,62.0),(19.8,27.0),(20.2,39.5),(20.6,57.0),(21.0,50.8),(21.4,38.3),(21.8,68.3),(22.2,39.5),(22.6,54.5),(23.0,28.3),(23.4,43.3),(23.8,54.5),(24.2,59.5),(24.6,82.0),(25.0,78.3),(25.4,83.3),(25.8,72.0),(26.2,79.5),(26.6,63.3),(27.0,54.5),(27.6,47.0),(28.0,44.5),(29.0,24.5),(29.6,40.8),(30.2,44.5),(30.6,20.8),(31.0,40.8),(31.6,47.0),(32.2,54.5),(32.6,43.3),(33.0,32.0),(33.6,39.5),(34.0,40.8),(34.6,77.0),(35.0,54.5),(35.4,62.0),(36.0,63.3),(36.4,32.0),(37.0,65.8),(39.4,38.3),(42.6,69.5),(43.0,62.0),(46.0,30.8),(46.6,39.5),(47.0,60.8),(47.4,53.3),(48.0,39.5),(48.6,47.0),(49.0,40.8),(49.4,57.0),(50.0,45.8),(50.6,64.5),(51.0,44.5),(51.4,49.5),(52.0,64.5),(52.6,55.8),(53.0,58.3),(53.4,62.0),(54.0,59.5),(55.0,63.3),(58.0,68.3),(59.4,12.5),(60.0,47.0),(61.0,43.3),(64.0,49.5),(64.4,32.0),(65.0,10.8),(65.6,34.5),(66.0,35.8),(66.6,40.8),(67.0,4.5),(67.4,62.0),(68.0,59.5),(69.0,34.5),(73.0,22.5),(74.6,44.5),(75.0,54.5),(76.0,67.0),(76.6,50.8),(77.4,68.3),(78.0,63.3),(78.6,59.5),(79.4,77.0),(80.0,49.5),(80.6,57.0),(81.4,49.5),(82.0,47.0),(82.6,29.5),(83.4,35.8),(84.0,43.3),(84.6,47.0),(85.4,57.0),(86.0,67.0),(86.6,68.3),(87.4,69.5),(88.0,74.5),(88.6,65.8),(89.4,59.5),(90.0,53.3),(91.0,48.3),(92.0,44.5),(93.0,54.5),(94.0,50.8),(94.6,44.5),(95.4,54.5),(96.0,67.0),(96.6,68.3),(97.4,58.3)]

P2071 = [(0.2,82.0),(1.0,84.5),(3.0,89.5),(4.4,69.5),(6.0,49.5),(7.0,42.0),(7.6,40.8),(8.0,55.8),(13.4,87.0),(14.0,63.3),(14.4,94.5),(15.0,77.0),(15.6,87.0),(16.0,60.8),(16.4,60.8),(17.0,47.0),(17.6,48.3),(18.0,35.8),(18.6,53.3),(19.0,37.0),(19.6,88.3),(20.0,64.5),(20.4,72.0),(21.0,67.0),(21.6,69.5),(22.0,74.5),(22.6,65.8),(23.0,98.3),(23.6,80.8),(24.0,75.8),(24.4,83.3),(25.0,77.0),(25.6,77.0),(26.0,78.3),(26.4,58.3),(27.0,33.3),(27.6,44.5),(28.0,35.8),(28.6,42.0),(29.2,44.5),(29.6,50.8),(30.0,53.3),(30.4,28.3),(30.8,4.5),(31.4,47.0),(32.0,53.3),(32.6,55.8),(33.2,65.8),(33.6,74.5),(34.0,69.5),(34.4,83.3),(35.0,80.8),(35.6,72.0),(36.4,67.0),(37.6,68.3),(38.4,65.8),(39.6,58.3),(41.0,5.8),(42.4,5.8),(43.0,23.3),(45.0,44.5),(47.0,79.5),(47.6,77.0),(48.4,64.5),(49.0,55.8),(50.0,43.3),(51.0,40.8),(51.4,9.5),(52.0,37.0),(52.6,73.3),(53.0,68.3),(53.6,75.8),(54.0,65.8),(57.6,72.0),(63.6,54.5),(65.6,68.3),(66.0,7.0),(67.0,60.8),(68.0,62.0),(71.0,32.0),(74.4,50.8),(76.0,69.5),(77.6,72.0),(78.4,68.3),(79.6,67.0),(81.0,69.5),(82.0,73.3),(83.0,65.8),(84.0,50.8),(85.0,49.5),(87.0,64.5),(88.0,72.0),(89.0,75.8),(90.0,68.3),(91.0,63.3),(92.0,57.0),(93.0,59.5),(94.0,53.3),(95.0,62.0),(96.0,67.0),(97.0,69.5)]

P2285 = [(0.2,44.5),(0.6,32.0),(1.4,49.5),(2.6,60.8),(3.4,54.5),(4.6,53.3),(5.4,32.0),(6.0,40.8),(6.6,34.5),(7.4,44.5),(8.0,39.5),(8.6,49.5),(13.0,98.3),(13.4,78.3),(13.8,30.8),(14.2,57.0),(14.6,4.5),(15.0,47.0),(15.4,20.8),(15.8,63.3),(16.2,32.0),(16.6,57.0),(17.0,35.8),(17.4,55.8),(17.8,40.8),(18.2,54.5),(18.6,33.3),(19.0,47.0),(19.4,27.0),(19.8,57.0),(20.2,37.0),(20.6,49.5),(21.0,24.5),(21.4,55.8),(22.0,39.5),(22.6,50.8),(23.0,44.5),(23.4,53.3),(24.0,44.5),(24.6,49.5),(25.4,39.5),(26.0,50.8),(26.6,74.5),(27.0,13.3),(27.4,42.0),(28.0,48.3),(28.6,44.5),(29.0,70.8),(29.6,39.5),(30.0,3.3),(30.6,47.0),(31.0,29.5),(31.4,45.8),(32.0,39.5),(32.6,74.5),(33.0,32.0),(33.4,47.0),(34.0,27.0),(34.6,13.3),(35.4,10.8),(36.0,43.3),(37.0,44.5),(38.6,54.5),(40.6,25.8),(41.4,20.8),(42.0,34.5),(43.0,19.5),(45.4,17.0),(46.6,53.3),(48.0,68.3),(48.6,65.8),(49.0,57.0),(49.4,42.0),(50.0,27.0),(50.6,47.0),(51.0,27.0),(51.4,34.5),(52.0,49.5),(53.0,85.8),(54.6,40.8),(59.0,70.8),(61.4,69.5),(63.4,19.5),(64.6,17.0),(65.0,15.8),(67.0,54.5),(68.0,82.0),(71.0,24.5),(72.6,45.8),(73.4,53.3),(74.6,50.8),(75.4,48.3),(76.6,54.5),(77.0,74.5),(77.6,55.8),(78.6,62.0),(79.4,53.3),(80.6,38.3),(81.4,58.3),(82.0,65.8),(83.0,69.5),(83.4,83.3),(84.0,47.0),(85.0,55.8),(86.0,59.5),(87.0,50.8),(88.0,69.5),(89.0,50.8),(90.0,44.5),(91.0,38.3),(92.0,64.5),(93.0,48.3),(94.0,43.3),(95.0,43.3),(96.0,43.3)]

P2346 = [(0.4,74.5),(1.0,89.5),(1.4,98.3),(2.0,74.5),(3.0,83.3),(4.0,78.3),(4.6,75.8),(5.4,48.3),(6.0,82.0),(6.6,65.8),(7.0,53.3),(7.4,64.5),(7.8,58.3),(8.0,37.0),(14.0,39.5),(14.2,17.0),(14.6,55.8),(15.0,47.0),(15.4,75.8),(16.0,49.5),(16.6,77.0),(17.0,69.5),(17.6,55.8),(18.0,48.3),(18.4,82.0),(18.8,24.5),(19.2,68.3),(19.6,85.8),(20.0,47.0),(20.4,79.5),(20.8,55.8),(21.2,83.3),(21.6,63.3),(22.0,47.0),(22.4,54.5),(22.8,69.5),(23.2,50.8),(23.6,57.0),(24.0,40.8),(24.4,55.8),(24.8,34.5),(25.2,57.0),(25.6,45.8),(26.0,28.3),(26.4,68.3),(27.0,45.8),(27.6,44.5),(28.6,47.0),(29.4,54.5),(30.0,69.5),(30.6,45.8),(31.0,47.0),(31.6,63.3),(32.0,83.3),(32.6,74.5),(33.0,68.3),(33.6,72.0),(34.0,59.5),(34.6,73.3),(35.0,35.8),(35.4,67.0),(36.0,67.0),(37.0,67.0),(38.6,55.8),(39.4,48.3),(41.4,43.3),(42.6,15.8),(43.0,47.0),(45.0,40.8),(46.0,39.5),(47.0,69.5),(47.4,78.3),(48.0,74.5),(48.6,82.0),(49.0,65.8),(49.4,89.5),(50.0,77.0),(50.6,72.0),(51.0,63.3),(51.6,72.0),(52.0,65.8),(52.6,43.3),(53.0,62.0),(53.4,39.5),(54.0,58.3),(55.0,3.3),(59.4,88.3),(60.0,59.5),(64.0,80.8),(64.4,23.3),(65.0,73.3),(66.0,44.5),(68.4,74.5),(69.0,27.0),(70.0,38.3),(72.0,59.5),(73.0,9.5),(74.0,63.3),(75.0,62.0),(76.0,68.3),(77.0,74.5),(78.0,82.0),(79.0,67.0),(80.0,67.0),(81.0,73.3),(81.4,69.5),(82.0,54.5),(83.0,50.8),(84.0,40.8),(85.0,49.5),(86.0,52.0),(87.0,42.0),(87.6,55.8),(88.4,53.3),(89.0,59.5),(90.0,77.0),(91.0,58.3),(92.0,87.0),(93.0,55.8),(94.0,55.8),(94.6,84.5),(95.4,69.5),(96.0,59.5),(97.0,57.0)]

P2632 = [(0.2,53.3),(1.0,57.0),(1.6,65.8),(2.0,49.5),(2.6,69.5),(3.0,85.8),(3.6,62.0),(4.4,38.3),(5.6,79.5),(6.0,75.8),(6.4,57.0),(7.0,69.5),(7.6,38.3),(8.0,62.0),(13.4,68.3),(13.6,98.3),(14.0,88.3),(14.4,69.5),(15.0,22.0),(15.6,57.0),(16.0,65.8),(16.6,37.0),(17.2,57.0),(18.0,58.3),(18.6,32.0),(19.0,50.8),(19.6,3.3),(20.0,49.5),(20.6,47.0),(21.2,95.8),(21.6,70.8),(22.0,57.0),(22.4,67.0),(23.0,43.3),(23.6,69.5),(24.0,58.3),(24.4,17.0),(25.0,52.0),(25.6,74.5),(26.0,87.0),(26.4,58.3),(27.0,14.5),(27.6,49.5),(28.0,65.8),(28.6,79.5),(29.0,64.5),(29.6,48.3),(30.4,49.5),(31.0,54.5),(31.6,62.0),(32.0,57.0),(32.6,54.5),(33.2,67.0),(33.6,49.5),(34.4,54.5),(34.8,33.3),(35.2,39.5),(35.6,55.8),(36.0,67.0),(36.4,90.8),(37.0,82.0),(38.0,69.5),(39.6,59.5),(47.0,67.0),(47.6,82.0),(48.0,75.8),(48.4,73.3),(49.0,62.0),(49.6,48.3),(50.0,40.8),(50.4,49.5),(51.0,68.3),(51.4,74.5),(51.8,83.3),(52.4,77.0),(52.8,52.0),(53.2,37.0),(53.6,42.0),(59.0,30.8),(68.0,37.0),(74.4,83.3),(75.6,59.5),(76.0,40.8),(77.6,84.5),(79.0,69.5),(80.0,43.3),(81.6,82.0),(82.4,78.3),(83.0,67.0),(83.6,37.0),(84.4,79.5),(85.0,75.8),(85.6,72.0),(86.4,73.3),(87.0,69.5),(88.0,65.8),(89.0,75.8),(89.6,84.5),(90.0,80.8),(91.0,39.5),(92.0,59.5),(93.0,60.8),(94.0,65.8),(94.6,37.0),(95.2,74.5),(95.6,80.8),(96.4,82.0)]

SERIES = [P921, P923, P931, P935, P937, P954, P969, P974, P975, P1227,
          P1455, P1456, P1605, P1711, P1744, P2010, P2071, P2285, P2346, P2632]

W, H = 258, 134
FRAME = "#4d4d4d"
TICK_LEN = 4


def make_panel(label, pts, mean, step):
    xs = alt.Scale(domain=X_DOMAIN, nice=False, zero=False)
    ys = alt.Scale(domain=Y_DOMAIN, nice=False, zero=False)
    df = pd.DataFrame(pts, columns=["t", "v"])
    df["i"] = range(len(df))
    base = alt.Chart(df)
    enc_x = alt.X("t:Q", scale=xs, axis=None)
    enc_y = alt.Y("v:Q", scale=ys, axis=None)
    line = base.mark_line(color="#808080", strokeWidth=1.7, clip=True).encode(
        x=enc_x, y=enc_y, order="i:Q")
    dots = base.mark_circle(fill="#2a2a2a", stroke="#a0a0a0", strokeWidth=0.6,
                            size=15, opacity=1, clip=True).encode(x=enc_x, y=enc_y)

    yt = []
    for k in range(-40, 41):
        v = mean + k * step
        if 0.8 < v < Y_DOMAIN[1] - 0.8:
            yt.append(v)
    xt_df = pd.DataFrame({"t": X_TICKS})
    yt_df = pd.DataFrame({"v": yt})
    xtop = alt.Chart(xt_df).mark_rule(color=FRAME, strokeWidth=1).encode(
        x=alt.X("t:Q", scale=xs, axis=None), y=alt.value(0), y2=alt.value(TICK_LEN))
    xbot = alt.Chart(xt_df).mark_rule(color=FRAME, strokeWidth=1).encode(
        x=alt.X("t:Q", scale=xs, axis=None), y=alt.value(H - TICK_LEN), y2=alt.value(H))
    yleft = alt.Chart(yt_df).mark_rule(color=FRAME, strokeWidth=1).encode(
        y=alt.Y("v:Q", scale=ys, axis=None), x=alt.value(0), x2=alt.value(TICK_LEN))
    yright = alt.Chart(yt_df).mark_rule(color=FRAME, strokeWidth=1).encode(
        y=alt.Y("v:Q", scale=ys, axis=None), x=alt.value(W - TICK_LEN), x2=alt.value(W))

    mline = alt.Chart(pd.DataFrame({"m": [mean]})).mark_rule(
        color="#0000ff", strokeWidth=1.8, strokeDash=[8, 4]).encode(
        y=alt.Y("m:Q", scale=ys, axis=None))

    lab = alt.Chart(pd.DataFrame({"lab": [label]})).mark_text(
        align="left", baseline="alphabetic", fontSize=19.5, font="DejaVu Sans",
        color="black").encode(text="lab:N", x=alt.value(2), y=alt.value(H - 4))

    return alt.layer(line, dots, xtop, xbot, yleft, yright, mline, lab).properties(
        width=W, height=H)


panels = [make_panel(LABELS[i], SERIES[i], MEANS[i], STEPS[i]) for i in range(len(LABELS))]
rows = [alt.hconcat(*panels[r:r + 3], spacing=14) for r in range(0, len(panels), 3)]
chart = alt.vconcat(*rows, spacing=15).configure_view(
    stroke=FRAME, strokeWidth=1).properties(
    padding={"left": 3, "top": -1, "right": 5, "bottom": 5}, background="white")

chart.save("out.html", embed_options={"renderer": "svg", "actions": False})
